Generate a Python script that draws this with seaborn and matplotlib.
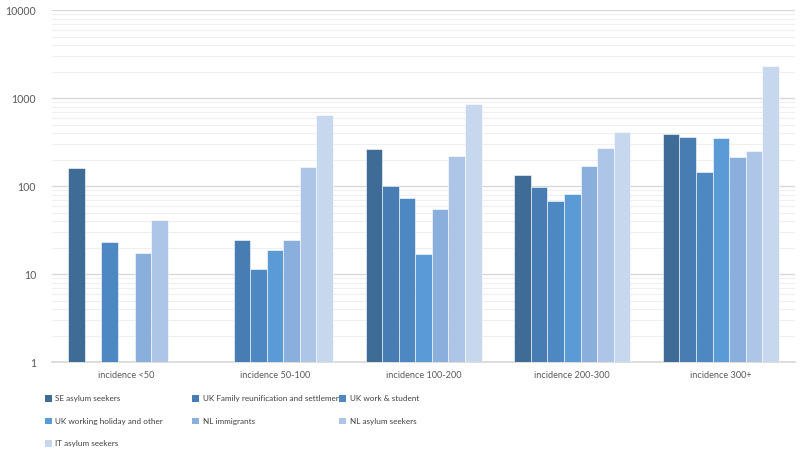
import numpy as np
import pandas as pd
import matplotlib
matplotlib.use("Agg")
import matplotlib.pyplot as plt
import seaborn as sns
from matplotlib.patches import Patch
from matplotlib.ticker import LogLocator, FixedLocator, NullFormatter

categories = ["incidence <50", "incidence 50-100", "incidence 100-200",
              "incidence 200-300", "incidence 300+"]
series = ["SE asylum seekers", "UK Family reunification and settlement",
          "UK work & student", "UK working holiday and other",
          "NL immigrants", "NL asylum seekers", "IT asylum seekers"]
se_asylum = [162, np.nan, 267, 136, 397]
uk_family = [np.nan, 24.8, 102, 98, 364]
uk_work = [23.5, 11.4, 73, 68, 145]
uk_holiday = [np.nan, 19.1, 16.9, 83, 354]
nl_immigrants = [17.5, 24.8, 55, 172, 215]
nl_asylum = [41, 167, 224, 272, 250]
it_asylum = [np.nan, 653, 875, 418, 2350]
colors = ["#3E6C97", "#477DB2", "#4E88C2", "#5A9AD5", "#8BAFDC", "#ADC5E6", "#C6D7EE"]

values = [se_asylum, uk_family, uk_work, uk_holiday, nl_immigrants, nl_asylum, it_asylum]
rows = []
for s, vals in zip(series, values):
    for c, v in zip(categories, vals):
        rows.append({"category": c, "series": s, "value": v})
df = pd.DataFrame(rows)

sns.set_theme(style="white")
plt.rcParams["font.family"] = ["Lato", "DejaVu Sans"]

fig = plt.figure(figsize=(8, 4.55), dpi=100)
ax = fig.add_axes([0.065, 0.2037, 0.929, 0.7733])
ax.set_yscale("log")
sns.barplot(data=df, x="category", y="value", hue="series", order=categories,
            hue_order=series, palette=colors, ax=ax, width=0.78, dodge=True,
            saturation=1, edgecolor="white", linewidth=0.4, legend=False,
            errorbar=None, zorder=3)
ax.set_ylim(1, 10000)
ax.set_xlim(-0.5, 4.5)
ax.yaxis.set_major_locator(FixedLocator([1, 10, 100, 1000, 10000]))
ax.set_yticklabels(["1", "10", "100", "1000", "10000"])
ax.yaxis.set_minor_locator(LogLocator(base=10, subs=np.arange(2, 10)))
ax.yaxis.set_minor_formatter(NullFormatter())
ax.grid(axis="y", which="major", color="#D9D9D9", linewidth=1.0, zorder=0)
ax.grid(axis="y", which="minor", color="#EFEFEF", linewidth=0.8, zorder=0)
ax.set_axisbelow(True)
for sp in ["top", "right", "left"]:
    ax.spines[sp].set_visible(False)
ax.spines["bottom"].set_color("#D9D9D9")
ax.tick_params(axis="y", which="both", length=0, labelsize=7.6, labelcolor="#595959", pad=11.5)
ax.tick_params(axis="x", length=0, labelsize=6.6, labelcolor="#595959", pad=6)
ax.set_xlabel("")
ax.set_ylabel("")

handles = [Patch(facecolor=c, edgecolor="none") for c in colors]
cols = [[0, 3, 6], [1, 4], [2, 5]]
xpos = [0.056, 0.240, 0.424]
for xp, idxs in zip(xpos, cols):
    fig.legend([handles[i] for i in idxs], [series[i] for i in idxs],
               loc="upper left", bbox_to_anchor=(xp, 0.1316), frameon=False,
               fontsize=5.9, handlelength=0.85, handleheight=0.85, handletextpad=0.45,
               labelspacing=1.88, borderaxespad=0, borderpad=0,
               labelcolor="#404040")

fig.savefig("out.png", dpi=100)
